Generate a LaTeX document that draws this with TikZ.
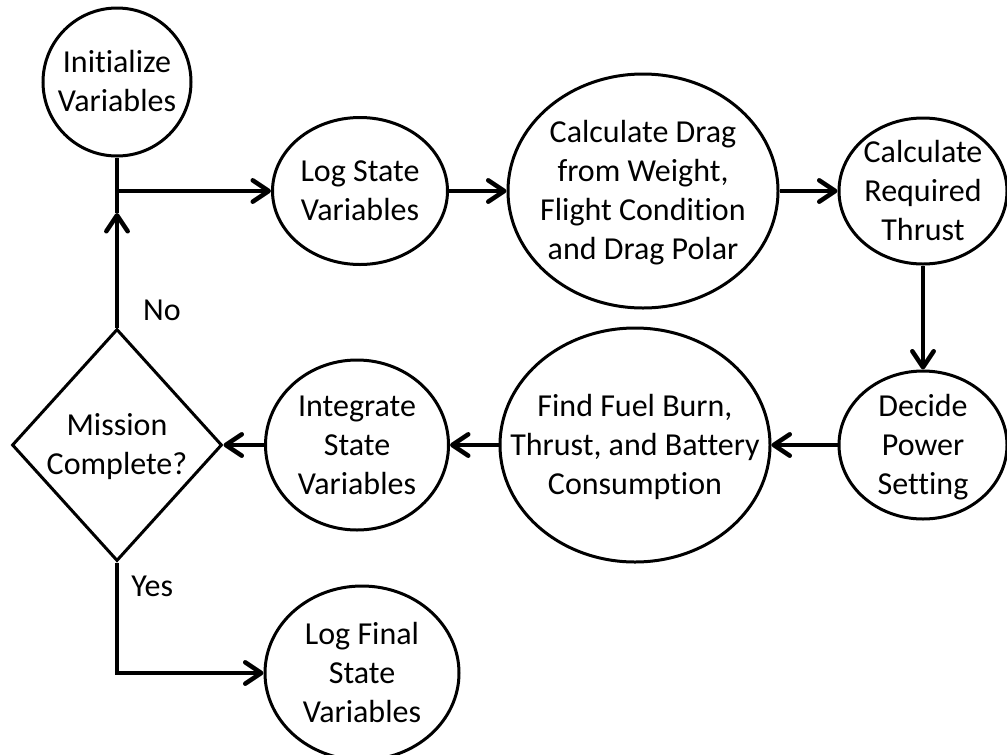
\documentclass[tikz,border=0pt]{standalone}
\usepackage{fontspec}
\setmainfont{Carlito}[Ligatures=NoCommon]
\usetikzlibrary{shapes.geometric,arrows.meta}

% centred multi-line text that takes no room of its own, so the shape keeps its set size
\newcommand{\ctext}[1]{\makebox[0pt]{\raisebox{-8pt}[0pt][0pt]{\begin{tabular}{@{}c@{}}#1\end{tabular}}}}

\begin{document}
\begin{tikzpicture}[x=0.75pt,y=-0.75pt,
  every node/.style={font=\fontsize{24}{29.25}\selectfont},
  blob/.style={ellipse,draw,line width=2.25pt,inner sep=0pt},
  decision/.style={diamond,draw,line width=2.25pt,inner sep=0pt},
  flow/.style={line width=3.4pt,-{Straight Barb[length=12pt,width=16pt,round]}},
  plain/.style={line width=3.4pt},
  tag/.style={inner sep=0pt}]
\useasboundingbox (0,0) rectangle (1007,754);

% process steps
\node[blob,minimum width=111pt,minimum height=111pt] (init) at (117,82) {\ctext{Initialize\\Variables}};
\node[blob,minimum width=131.25pt,minimum height=110.25pt] (log) at (360,191) {\ctext{Log State\\Variables}};
\node[blob,minimum width=202.5pt,minimum height=175.5pt] (drag) at (643,191) {\ctext{Calculate Drag\\from Weight,\\Flight Condition\\and Drag Polar}};
\node[blob,minimum width=126pt,minimum height=109.5pt] (thrust) at (923,191) {\ctext{Calculate\\Required\\Thrust}};
\node[blob,minimum width=126pt,minimum height=111pt] (power) at (923,445) {\ctext{Decide\\Power\\Setting}};
\node[blob,minimum width=202.5pt,minimum height=175.5pt] (fuel) at (635,445) {\ctext{Find Fuel Burn,\\Thrust, and Battery\\Consumption}};
\node[blob,minimum width=137.25pt,minimum height=127.5pt] (integ) at (357,445) {\ctext{Integrate\\State\\Variables}};
\node[decision,minimum width=157.5pt,minimum height=174pt] (done) at (117,445) {\ctext{Mission\\Complete?}};
\node[blob,minimum width=145.5pt,minimum height=130.5pt] (final) at (362,673) {\ctext{Log Final\\State\\Variables}};

% branch labels
\node[tag] (no) at (162,310) {No};
\node[tag,anchor=west] (yes) at (131,586) {Yes};

% junction below the start node and the tip of the loop-back arrow
\coordinate (junc) at (117,191);
\coordinate (uptip) at (117,213);

% connectors
\draw[plain] (init.south) -- (uptip);
\draw[flow] (done.north) -- (uptip);
\draw[flow] (junc) -- (log.west);
\draw[flow] (log.east) -- (drag.west);
\draw[flow] (drag.east) -- (thrust.west);
\draw[flow] (thrust.south) -- (power.north);
\draw[flow] (power.west) -- (fuel.east);
\draw[flow] (fuel.west) -- (integ.east);
\draw[flow] (integ.west) -- (done.east);
\draw[flow] (done.south) |- (final.west);
\end{tikzpicture}
\end{document}
